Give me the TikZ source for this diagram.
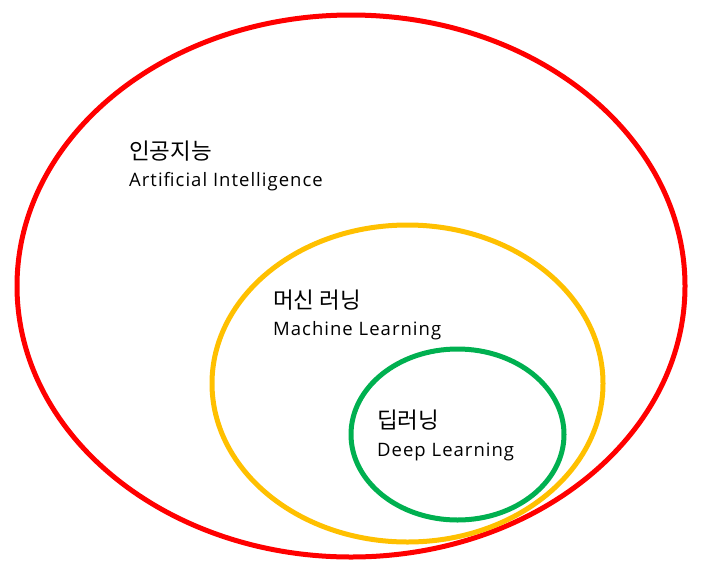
\documentclass[tikz,border=0pt]{standalone}
\usepackage{fontspec}
\setmainfont{Noto Sans CJK KR}
\newfontfamily\latinfont[LetterSpace=5.5]{Open Sans}
\usepackage{tikz}
\usetikzlibrary{positioning}
\definecolor{aired}{HTML}{FF0000}
\definecolor{mlyellow}{HTML}{FFC000}
\definecolor{dlgreen}{HTML}{00B050}
\begin{document}
\begin{tikzpicture}[
    x=1pt, y=-1pt,
    ring/.style={line width=5pt},
    kor/.style={anchor=west, inner sep=0pt, font=\fontsize{22.5}{26}\selectfont},
    eng/.style={anchor=west, inner sep=0pt, font=\latinfont\fontsize{18.5}{21}\selectfont}
]
    \useasboundingbox (0,0) rectangle (701,571);

    % 영역
    \draw[ring, aired] (351,286) ellipse [x radius=334, y radius=271];
    \draw[ring, mlyellow] (407.5,383.5) ellipse [x radius=195.5, y radius=158.5];
    \draw[ring, dlgreen] (457.5,434.5) ellipse [x radius=106.5, y radius=85.5];

    % 인공지능
    \node[kor] (aiko) at (129,151) {인공지능};
    \node[eng] (aien) at (129,182) {Artificial Intelligence};

    % 머신 러닝
    \node[kor] (mlko) at (273,300) {머신 러닝};
    \node[eng] (mlen) at (273,331) {Machine Learning};

    % 딥러닝
    \node[kor] (dlko) at (377,420) {딥러닝};
    \node[eng] (dlen) at (377,452) {Deep Learning};
\end{tikzpicture}
\end{document}
